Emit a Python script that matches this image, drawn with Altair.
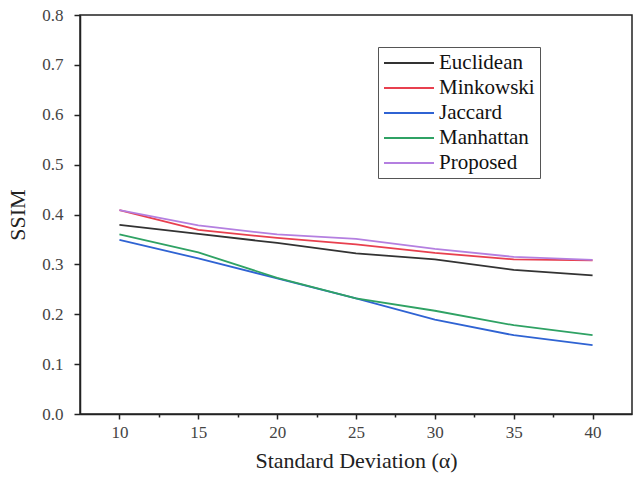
import altair as alt
import pandas as pd

x_vals = [10, 15, 20, 25, 30, 35, 40]
euclidean = [0.379, 0.361, 0.343, 0.322, 0.310, 0.289, 0.278]
minkowski = [0.409, 0.369, 0.353, 0.340, 0.323, 0.310, 0.308]
jaccard = [0.349, 0.312, 0.272, 0.232, 0.189, 0.158, 0.138]
manhattan = [0.360, 0.324, 0.273, 0.232, 0.207, 0.178, 0.158]
proposed = [0.409, 0.378, 0.360, 0.351, 0.331, 0.315, 0.309]

series = ["Euclidean", "Minkowski", "Jaccard", "Manhattan", "Proposed"]
colors = ["#333333", "#e8404f", "#2f63d3", "#2fa264", "#b47fe0"]
values = [euclidean, minkowski, jaccard, manhattan, proposed]

rows = []
for name, vals in zip(series, values):
    for xv, yv in zip(x_vals, vals):
        rows.append({"sd": xv, "ssim": yv, "method": name})
df = pd.DataFrame(rows)

font = "Liberation Serif"

chart = alt.Chart(df).mark_line(strokeWidth=1.8).encode(
    x=alt.X("sd:Q", scale=alt.Scale(domain=[7.5, 42.5], nice=False, zero=False),
            axis=alt.Axis(title="Standard Deviation (α)",
                          values=[10, 12.5, 15, 17.5, 20, 22.5, 25, 27.5, 30, 32.5, 35, 37.5, 40],
                          labelExpr="datum.value % 5 === 0 ? datum.label : ''",
                          tickSize={"condition": {"test": "datum.value % 5 !== 0", "value": 3}, "value": 5},
                          grid=False, labelFontSize=17, titleFontSize=22,
                          labelPadding=5, titlePadding=10)),
    y=alt.Y("ssim:Q", scale=alt.Scale(domain=[0, 0.8], nice=False),
            axis=alt.Axis(title="SSIM", values=[0, 0.1, 0.2, 0.3, 0.4, 0.5, 0.6, 0.7, 0.8],
                          format=".1f", grid=False, labelFontSize=17, titleFontSize=22,
                          tickSize=6, labelPadding=11, titlePadding=12)),
    color=alt.Color("method:N", scale=alt.Scale(domain=series, range=colors),
                    sort=series,
                    legend=alt.Legend(title=None, orient="none", legendX=298, legendY=32,
                                      symbolType="M-1,0H4", symbolStrokeWidth=1.8,
                                      symbolSize=400, labelFontSize=21, labelFont=font,
                                      labelColor="#111111", strokeColor="#555555",
                                      padding=5, rowPadding=4, labelOffset=34,
                                      labelLimit=300)),
).properties(
    width=552, height=399,
    padding={"left": 80, "top": 15, "right": 3, "bottom": 66},
    autosize=alt.AutoSizeParams(type="none"),
).configure_view(
    stroke="#222222", strokeWidth=1.5
).configure_axis(
    labelFont=font, titleFont=font, labelColor="#444444", titleColor="#222222",
    titleFontWeight="normal", domainColor="#222222", domainWidth=1.5,
    tickColor="#222222", tickWidth=1.5
)

chart.save("out.html", embed_options={"renderer": "svg", "actions": False})
